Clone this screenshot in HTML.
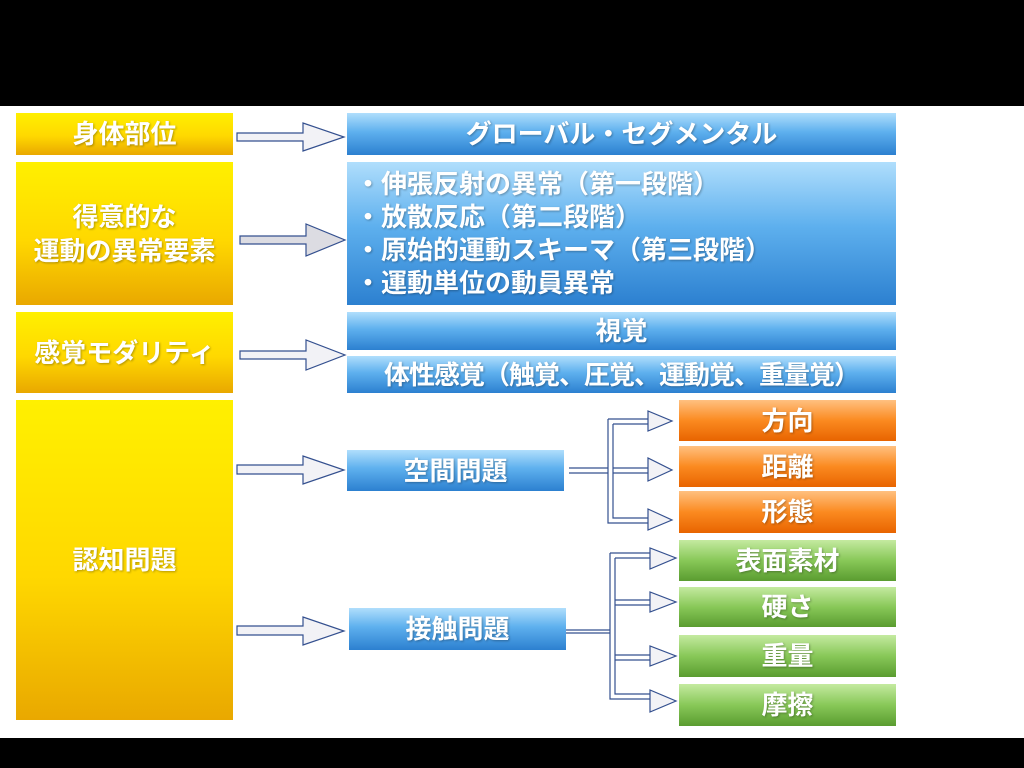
<!DOCTYPE html>
<html><head><meta charset="utf-8"><style>
body{margin:0;width:1024px;height:768px;background:#000;position:relative;overflow:hidden;font-family:"Liberation Sans","Noto Sans CJK JP",sans-serif;}
.w{position:absolute;left:0;top:106px;width:1024px;height:632px;background:#fff}
.b{position:absolute;color:#fff;font-weight:bold;font-size:26px;display:flex;align-items:center;justify-content:center;text-align:center;text-shadow:1px 1px 2px rgba(0,0,0,.3);line-height:34px;white-space:nowrap}
.y{background:linear-gradient(#fff000 0%,#ffd800 55%,#e9a800 100%)}
.bl{background:linear-gradient(#b0defc 0%,#5eb0ee 45%,#2c80d0 100%)}
.o{background:linear-gradient(#ffc080 0%,#fb8a20 50%,#e86400 100%)}
.g{background:linear-gradient(#c4eaa0 0%,#88c858 50%,#5a9c30 100%)}
svg{position:absolute;left:0;top:0}
</style></head><body>
<div class="w"></div>
<div class="b y" style="left:16px;top:113px;width:217px;height:42px">身体部位</div>
<div class="b y" style="left:16px;top:162px;width:217px;height:143px">得意的な<br>運動の異常要素</div>
<div class="b y" style="left:16px;top:312px;width:217px;height:81px">感覚モダリティ</div>
<div class="b y" style="left:16px;top:400px;width:217px;height:320px">認知問題</div>
<div class="b bl" style="left:347px;top:113px;width:549px;height:42px">グローバル・セグメンタル</div>
<div class="b bl" style="left:347px;top:162px;width:549px;height:143px;justify-content:flex-start;text-align:left;padding-left:8px;box-sizing:border-box;line-height:33px">・伸張反射の異常（第一段階）<br>・放散反応（第二段階）<br>・原始的運動スキーマ（第三段階）<br>・運動単位の動員異常</div>
<div class="b bl" style="left:347px;top:312px;width:549px;height:38px">視覚</div>
<div class="b bl" style="left:347px;top:356px;width:549px;height:37px;letter-spacing:-1px">体性感覚（触覚、圧覚、運動覚、重量覚）</div>
<div class="b bl" style="left:347px;top:450px;width:217px;height:41px">空間問題</div>
<div class="b bl" style="left:349px;top:608px;width:217px;height:42px">接触問題</div>
<div class="b o" style="left:679px;top:400px;width:217px;height:41px">方向</div>
<div class="b o" style="left:679px;top:446px;width:217px;height:41px">距離</div>
<div class="b o" style="left:679px;top:491px;width:217px;height:42px">形態</div>
<div class="b g" style="left:679px;top:540px;width:217px;height:41px">表面素材</div>
<div class="b g" style="left:679px;top:587px;width:217px;height:40px">硬さ</div>
<div class="b g" style="left:679px;top:635px;width:217px;height:42px">重量</div>
<div class="b g" style="left:679px;top:684px;width:217px;height:42px">摩擦</div>
<svg width="1024" height="768" fill="#f2f2f6" stroke="#34508f" stroke-width="1.2">
<path d="M237 133 H303 V123 L344 137 L303 151 V141 H237 Z"/>
<path d="M240 236 H306 V224 L345 240 L306 256 V244 H240 Z" fill="#dcdce2"/>
<path d="M240 351 H306 V340 L345 355 L306 370 V359 H240 Z"/>
<path d="M237 465 H303 V456 L344 470 L303 484 V474 H237 Z"/>
<path d="M237 626 H303 V617 L344 631 L303 645 V635 H237 Z"/>
<g fill="none">
<path d="M569 468 H608 M569 473 H608"/>
<path d="M608 419 V523 H648 M613 424 V518 H648 M608 419 H648 M613 424 H648"/>
<path d="M613 468 H648 M613 473 H648"/>
<path d="M566 630 H610 M566 633 H610"/>
<path d="M610 553 V699 H650 M615 558 V694 H650 M610 553 H650 M615 558 H650"/>
<path d="M615 600 H650 M615 605 H650 M615 655 H650 M615 660 H650"/>
</g>
<path d="M648 415 V411 L672 421 L648 431 V427 Z"/>
<path d="M648 464 V458 L672 470 L648 481 V476 Z"/>
<path d="M648 519 V509 L672 520 L648 530 V527 Z"/>
<path d="M650 549 V548 L676 558 L650 569 V562 Z"/>
<path d="M650 596 V592 L676 602 L650 612 V609 Z"/>
<path d="M650 651 V646 L676 656 L650 666 V664 Z"/>
<path d="M650 695 V690 L676 701 L650 712 V703 Z"/>
</svg>
</body></html>
